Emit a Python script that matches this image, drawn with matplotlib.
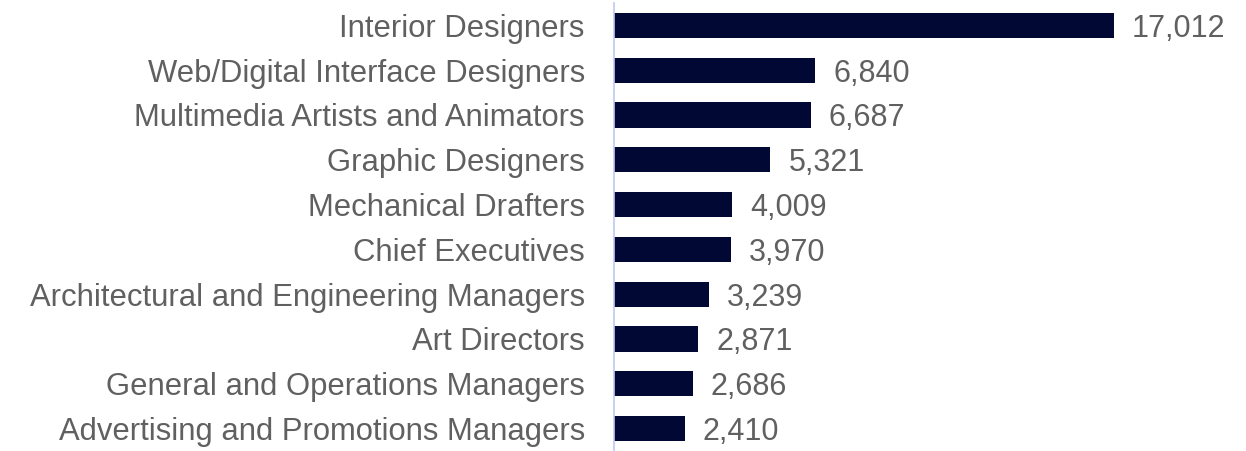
import matplotlib
matplotlib.use("Agg")
import matplotlib.pyplot as plt

occupations = [
    "Interior Designers",
    "Web/Digital Interface Designers",
    "Multimedia Artists and Animators",
    "Graphic Designers",
    "Mechanical Drafters",
    "Chief Executives",
    "Architectural and Engineering Managers",
    "Art Directors",
    "General and Operations Managers",
    "Advertising and Promotions Managers",
]
counts = [17012, 6840, 6687, 5321, 4009, 3970, 3239, 2871, 2686, 2410]

plt.rcParams["font.family"] = ["Liberation Sans", "DejaVu Sans"]
text_color = "#606060"

fig = plt.figure(figsize=(12.46, 4.51), dpi=100)
ax = fig.add_axes([614 / 1246, 0.0, 632 / 1246, 448 / 451])

y = list(range(len(occupations)))
ax.barh(y, counts, height=0.56, color="#000833")
ax.set_ylim(len(occupations) - 0.5, -0.5)
ax.set_xlim(0, 17012 * 632 / 500)

for yi, v in zip(y, counts):
    ax.text(v + 17012 * 18 / 500, yi, f"{v:,}", va="center_baseline", ha="left",
            fontsize=22, color=text_color)

ax.set_yticks(y)
ax.set_yticklabels(occupations, fontsize=22.3, color=text_color,
                   va="center_baseline")
ax.tick_params(axis="y", length=0, pad=21)
ax.set_xticks([])

for side in ("top", "right", "bottom"):
    ax.spines[side].set_visible(False)
ax.spines["left"].set_color("#BFC8F5")
ax.spines["left"].set_linewidth(1.2)

fig.savefig("out.png", dpi=100)
